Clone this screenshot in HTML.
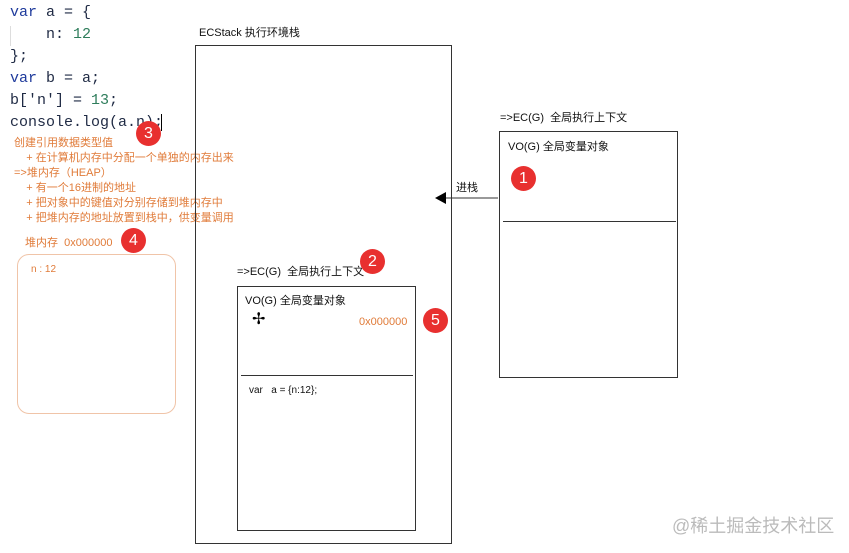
<!DOCTYPE html>
<html><head><meta charset="utf-8"><style>
body{margin:0;width:849px;height:553px;background:#fff;position:relative;overflow:hidden;font-family:"Liberation Sans","Noto Sans CJK SC",sans-serif;}
.a{position:absolute;white-space:nowrap;}
.code{font-family:"Liberation Mono","DejaVu Sans Mono",monospace;font-size:15px;color:#1f2a44;}
.code div{height:22px;white-space:pre;}
.k{color:#1f3b9c}.n{color:#2e7d5b}
.o{color:#e07b39;font-size:11px}
.box{position:absolute;border:1px solid #333;}
.b{position:absolute;width:25px;height:25px;border-radius:50%;background:#e8302f;color:#fff;font-size:16px;text-align:center;line-height:25px;}
.t{font-size:11px;color:#111}
</style></head><body>
<div class="a code" style="left:10px;top:4px">
<div><span class="k">var</span> a = {</div>
<div>    n: <span class="n">12</span></div>
<div>};</div>
<div><span class="k">var</span> b = a;</div>
<div>b['n'] = <span class="n">13</span>;</div>
<div>console.log(a.n);<span style="border-left:1.5px solid #000;margin-left:-2px"> </span></div>
</div>
<div style="position:absolute;left:10px;top:26px;height:20px;border-left:1px solid #ddd"></div>
<div class="a o" style="left:14px;top:136px;line-height:15px">创建引用数据类型值<br>&nbsp;&nbsp;&nbsp;&nbsp;+ 在计算机内存中分配一个单独的内存出来<br>=>堆内存（HEAP）<br>&nbsp;&nbsp;&nbsp;&nbsp;+ 有一个16进制的地址<br>&nbsp;&nbsp;&nbsp;&nbsp;+ 把对象中的键值对分别存储到堆内存中<br>&nbsp;&nbsp;&nbsp;&nbsp;+ 把堆内存的地址放置到栈中，供变量调用</div>
<div class="a o" style="left:25px;top:234px">堆内存&nbsp;&nbsp;0x000000</div>
<div style="position:absolute;left:17px;top:254px;width:157px;height:158px;border:1px solid #f0c4a8;border-radius:12px"></div>
<div class="a o" style="left:31px;top:264px;font-size:10px">n : 12</div>

<div class="a t" style="left:199px;top:24px">ECStack 执行环境栈</div>
<div class="box" style="left:195px;top:45px;width:255px;height:497px"></div>
<div class="a t" style="left:237px;top:263px">=>EC(G)&nbsp;&nbsp;全局执行上下文</div>
<div class="box" style="left:237px;top:286px;width:177px;height:243px"></div>
<div style="position:absolute;left:241px;top:375px;width:172px;border-top:1px solid #333"></div>
<div class="a t" style="left:245px;top:292px">VO(G) 全局变量对象</div>
<div class="a" style="left:252px;top:309px;font-size:16px">✢</div>
<div class="a o" style="left:359px;top:316px">0x000000</div>
<div class="a t" style="left:249px;top:385px;font-size:10px">var&nbsp;&nbsp;&nbsp;a = {n:12};</div>

<div class="a t" style="left:500px;top:109px">=>EC(G)&nbsp;&nbsp;全局执行上下文</div>
<div class="box" style="left:499px;top:131px;width:177px;height:245px"></div>
<div style="position:absolute;left:503px;top:221px;width:173px;border-top:1px solid #333"></div>
<div class="a t" style="left:508px;top:138px">VO(G) 全局变量对象</div>

<div class="a t" style="left:456px;top:179px">进栈</div>
<svg style="position:absolute;left:430px;top:188px" width="70" height="20"><line x1="14" y1="10" x2="68" y2="10" stroke="#333" stroke-width="1"/><polygon points="5,10 16,4 16,16" fill="#000"/></svg>

<div class="b" style="left:511px;top:166px">1</div>
<div class="b" style="left:360px;top:249px">2</div>
<div class="b" style="left:136px;top:121px">3</div>
<div class="b" style="left:121px;top:228px">4</div>
<div class="b" style="left:423px;top:308px">5</div>
<div class="a" style="left:672px;top:512px;font-size:18px;color:#bbb">@稀土掘金技术社区</div>
</body></html>
